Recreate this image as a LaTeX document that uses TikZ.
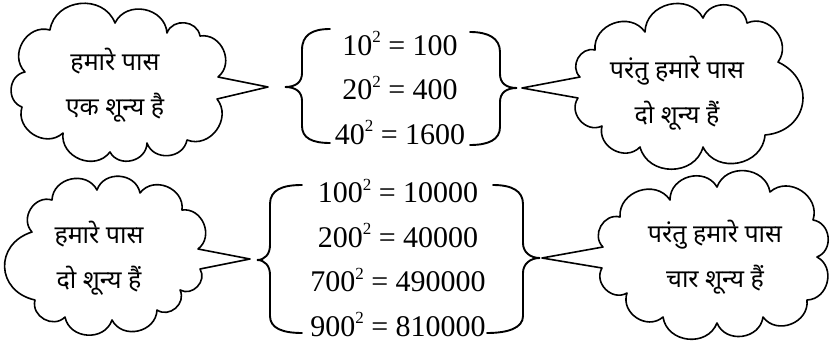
\documentclass[tikz,border=0pt]{standalone}
\usepackage{fontspec}
\setmainfont{Liberation Serif}
\newfontfamily\deva[Script=Devanagari]{Noto Sans}
\newcommand\sqr{\raisebox{12.5pt}{\fontsize{17}{17}\selectfont 2}}
\begin{document}
\begin{tikzpicture}[x=1pt,y=-1pt,
  cloudline/.style={line width=1.6pt,line join=round},
  puff/.style={bend right=75,looseness=1.25},
  bigpuff/.style={bend right=75,looseness=1.5},
  bracel/.style={line width=1.9pt,line cap=round},
  hindi/.style={font={\deva\fontsize{25}{45}\selectfont},align=center,inner sep=0pt},
  eqs/.style={font={\fontsize{30}{44.5}\selectfont},align=center,inner sep=0pt}]
\useasboundingbox (0,0) rectangle (831,342);
% tail tips
\coordinate (t1) at (268,87);
\coordinate (t2) at (522,88);
\coordinate (t3) at (250,259);
\coordinate (t4) at (542,258);
% cloud 1
\draw[cloudline] (218,77) to[puff] (200,36) to[puff] (167,33) to[puff] (115,23)
  to[puff] (50,30) to[puff] (25,72) to[puff] (22,107) to[puff] (63,133)
  to[puff] (110,152) to[puff] (147,143) to[puff] (187,140) to[puff] (217,99)
  -- (t1) -- cycle;
% cloud 2
\draw[cloudline] (580,77) -- (t2) -- (578,98) to[puff] (602,126) to[puff] (640,147)
  to[puff] (703,147) to[puff] (765,135) to[bigpuff] (778,62) to[puff] (747,23)
  to[puff] (703,18) to[puff] (645,32) to[puff] (595,50) to[puff] cycle;
% cloud 3
\draw[cloudline] (198,249) to[puff] (182,210) to[puff] (140,193) to[puff] (97,190)
  to[puff] (52,200) to[puff] (32,232) to[bigpuff] (35,300) to[puff] (65,317)
  to[puff] (112,320) to[puff] (157,310) to[puff] (180,290) to[puff] (200,269)
  -- (t3) -- cycle;
% cloud 4
\draw[cloudline] (603,247) -- (t4) -- (602,268) to[puff] (627,293) to[puff] (663,317)
  to[puff] (717,323) to[puff] (763,317) to[puff] (807,300) to[puff] (817,257)
  to[puff] (813,220) to[puff] (770,192) to[puff] (717,187) to[puff] (670,200)
  to[puff] (620,217) to[puff] cycle;
% texts
\node[hindi] (c1) at (115,85) {हमारे पास\\एक शून्य है};
\node[hindi] (c2) at (677,93) {परंतु हमारे पास\\दो शून्य हैं};
\node[hindi] (c3) at (99,258) {हमारे पास\\दो शून्य हैं};
\node[hindi] (c4) at (715,257) {परंतु हमारे पास\\चार शून्य हैं};
% equations
\node[eqs] (e1) at (400,88) {10\sqr{} = 100\\20\sqr{} = 400\\40\sqr{} = 1600};
\node[eqs] (e2) at (398,258) {100\sqr{} = 10000\\200\sqr{} = 40000\\700\sqr{} = 490000\\900\sqr{} = 810000};
% braces
\draw[bracel] (330,29) .. controls (312,29) and (302,35) .. (302,50) -- (302,73)
  .. controls (302,82) and (296,87) .. (285,87) .. controls (296,87) and (302,92) .. (302,101)
  -- (302,126) .. controls (302,138) and (312,143) .. (330,143);
\draw[bracel] (470,32) .. controls (488,32) and (500,38) .. (500,52) -- (500,74)
  .. controls (500,83) and (506,88) .. (517,88) .. controls (506,88) and (500,93) .. (500,102)
  -- (500,127) .. controls (500,140) and (488,145) .. (470,145);
\draw[bracel] (302,185) .. controls (282,185) and (270,190) .. (270,204) -- (270,245)
  .. controls (270,254) and (265,260) .. (257,260) .. controls (265,260) and (270,266) .. (270,275)
  -- (270,316) .. controls (270,328) and (282,333) .. (302,333);
\draw[bracel] (493,185) .. controls (512,185) and (523,191) .. (523,204) -- (523,243)
  .. controls (523,252) and (530,258) .. (540,258) .. controls (530,258) and (523,264) .. (523,273)
  -- (523,316) .. controls (523,328) and (508,333) .. (487,333);
\end{tikzpicture}
\end{document}
